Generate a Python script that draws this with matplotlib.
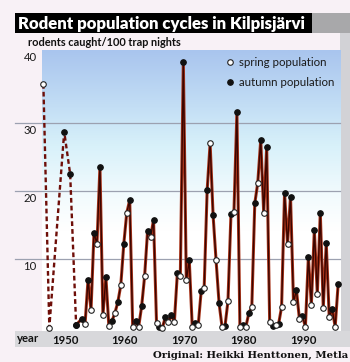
import numpy as np
import matplotlib
matplotlib.use("Agg")
import matplotlib.pyplot as plt
from matplotlib.patches import Rectangle
from matplotlib.lines import Line2D
from matplotlib.colors import LinearSegmentedColormap
import matplotlib.transforms as mtransforms

# ---------------- data ----------------
title = "Rodent population cycles in Kilpisjärvi"
subtitle = "rodents caught/100 trap nights"
credit = "Original: Heikki Henttonen, Metla"
legend_labels = ["spring population", "autumn population"]
xtick_years = [1950, 1960, 1970, 1980, 1990]
ytick_values = [10, 20, 30, 40]

# early, irregular observations (dashed)
early_years = [1946, 1947, 1949, 1950, 1951]
early_season = ["spring", "spring", "autumn", "autumn", "autumn"]
early_values = [35.7, 0.0, 28.7, 22.5, 0.4]

# regular trapping, spring and autumn
years = list(range(1951, 1996))
spring_values = [None, None, 0.5, 2.5, 12.2, 1.8, 0.15, 2.1, 6.2, 16.8,
                 0.1, 0.1, 7.5, 13.2, 0.7, 0.0, 0.85, 0.85, 7.6, 6.9,
                 0.1, 0.3, 5.8, 27.0, 9.85, 0.1, 3.9, 16.9, 0.1, 0.1,
                 3.0, 21.2, 16.8, 0.85, 0.4, 3.0, 12.2, 3.8, 1.2, 0.1,
                 3.35, 4.9, 2.9, 1.5, 0.1]
autumn_values = [0.4, 1.3, 7.0, 13.9, 23.6, 7.4, 0.9, 3.7, 12.2, 18.7,
                 1.0, 3.1, 14.2, 15.8, 0.1, 1.6, 1.8, 8.0, 39.0, 9.85,
                 0.7, 5.35, 20.1, 16.45, 3.6, 0.2, 16.6, 31.55, 0.3, 2.1,
                 18.2, 27.5, 26.4, 0.2, 0.5, 19.7, 19.2, 5.45, 1.7, 10.35,
                 14.3, 16.85, 12.4, 2.7, 6.4]

season_offset = {"spring": 0.35, "autumn": 0.85}

# ---------------- build series ----------------
early_t = [y + season_offset[s] for y, s in zip(early_years, early_season)]
t_all, v_all, kind = [], [], []
for y, sv, av in zip(years, spring_values, autumn_values):
    if sv is not None:
        t_all.append(y + season_offset["spring"]); v_all.append(sv); kind.append("s")
    if av is not None:
        t_all.append(y + season_offset["autumn"]); v_all.append(av); kind.append("a")
t_all = np.array(t_all); v_all = np.array(v_all); kind = np.array(kind)

# ---------------- figure ----------------
W, H = 350, 362
fig = plt.figure(figsize=(W / 100, H / 100), dpi=100)
fig.patch.set_facecolor("#f8f1f6")

def fx(px): return px / W
def fy(py): return 1 - py / H

def rect(x0, y0, x1, y1, color, z=-5):
    fig.patches.append(Rectangle((fx(x0), fy(y1)), (x1 - x0) / W, (y1 - y0) / H,
                                 transform=fig.transFigure, facecolor=color,
                                 edgecolor="none", zorder=z))

rect(15, 13, 312, 33, "#000000")
rect(312, 13, 350, 33, "#a8a8aa")
rect(340, 33, 350, 347, "#d2d2d6")
rect(15, 331, 350, 347, "#d8d8db")

sans = ["Lato", "DejaVu Sans"]

ax_l, ax_r, ax_t, ax_b = 41.7, 340, 50, 331
ax = fig.add_axes([fx(ax_l), fy(ax_b), (ax_r - ax_l) / W, (ax_b - ax_t) / H])
ax.set_zorder(1)
ax.patch.set_alpha(0)
ax.set_xlim(1946.07, 1996.16)
ax.set_ylim(-0.51, 40.69)
for s in ax.spines.values():
    s.set_visible(False)

# background gradient
cmap = LinearSegmentedColormap.from_list(
    "bg", [(0.0, "#ffffff"), (0.36, "#ffffff"), (0.50, "#f0fafd"),
           (0.66, "#d8f1fa"), (0.80, "#c3def5"), (1.0, "#a9c5ee")])
grad = np.linspace(0, 1, 256).reshape(-1, 1)
ax.imshow(grad, extent=[*ax.get_xlim(), *ax.get_ylim()], origin="lower",
          aspect="auto", cmap=cmap, zorder=0)
ax.set_xlim(1946.07, 1996.16)
ax.set_ylim(-0.51, 40.69)

# grid lines extend into the label column
ax_w = ax_r - ax_l
for v in ytick_values[:-1]:
    ax.axhline(v, xmin=(15 - ax_l) / ax_w, xmax=1, color="#9ca1b0", lw=0.9,
               clip_on=False, zorder=1)

# y tick labels below gridlines
base = mtransforms.blended_transform_factory(ax.transAxes, ax.transData)
for v in ytick_values:
    dy = -7.5 if v < 40 else -3.0
    tr = mtransforms.offset_copy(base, fig=fig, x=0, y=dy, units="dots")
    ax.text((30 - ax_l) / ax_w, v, str(v), transform=tr, ha="center", va="center",
            fontsize=8.2, family=sans, color="#1a1a1a", clip_on=False)

# x ticks
ax.set_yticks([])
ax.set_xticks(xtick_years)
ax.set_xticklabels([str(y) for y in xtick_years], fontsize=8.2,
                   fontweight="bold", family=sans, color="#111111")
ax.tick_params(axis="x", length=0, pad=3.2)

# early dashed segment
ax.plot(early_t, early_values, color="#6e0e08", lw=1.7, ls=(0, (2.0, 1.3)),
        zorder=3, dash_capstyle="butt")

# solid series (two-tone line)
ax.plot(t_all, v_all, color="#a8341a", lw=2.2, zorder=3, solid_joinstyle="round")
ax.plot(t_all, v_all, color="#3a0500", lw=1.0, zorder=3, solid_joinstyle="round")

# markers
e_t = np.array(early_t); e_v = np.array(early_values)
e_k = np.array(early_season)
ms = 4.0
ax.plot(e_t[e_k == "spring"], e_v[e_k == "spring"], ls="", marker="o", ms=ms,
        mfc="white", mec="#222222", mew=0.8, zorder=5, clip_on=False)
ax.plot(e_t[e_k == "autumn"], e_v[e_k == "autumn"], ls="", marker="o", ms=ms,
        mfc="#111111", mec="#111111", mew=0.8, zorder=5, clip_on=False)
ax.plot(t_all[kind == "a"], v_all[kind == "a"], ls="", marker="o", ms=ms,
        mfc="#111111", mec="#111111", mew=0.8, zorder=5, clip_on=False)
ax.plot(t_all[kind == "s"], v_all[kind == "s"], ls="", marker="o", ms=ms,
        mfc="white", mec="#222222", mew=0.8, zorder=6, clip_on=False)

# legend
handles = [Line2D([], [], ls="", marker="o", ms=ms, mfc="white", mec="#222222", mew=0.8),
           Line2D([], [], ls="", marker="o", ms=ms, mfc="#111111", mec="#111111", mew=0.8)]
leg = ax.legend(handles, legend_labels, loc="upper left",
                bbox_to_anchor=(fx(226), fy(57.5)), bbox_transform=fig.transFigure,
                frameon=False, borderpad=0, borderaxespad=0, handlelength=0.7,
                handletextpad=0.45, labelspacing=0.72,
                prop={"family": sans, "size": 8.3})
for t in leg.get_texts():
    t.set_color("#1a1a1a")

# texts
t_title = fig.text(fx(18), fy(23.5), title, color="white", fontsize=11.5,
                   fontweight="heavy", family=sans, ha="left", va="center")
t_sub = fig.text(fx(28), fy(42.5), subtitle, color="#111111", fontsize=8.2,
                 fontweight="bold", family=sans, ha="left", va="center")
fig.text(fx(17), fy(339), "year", color="#111111", fontsize=8.2,
         fontweight="bold", family=sans, ha="left", va="center")
t_cred = fig.text(fx(348), fy(355), credit, color="#111111", fontsize=8.5,
                  fontweight="bold", family=["DejaVu Serif"], ha="right", va="center")

# fit widths to the reference
fig.canvas.draw()
r = fig.canvas.get_renderer()
for txt, target in [(t_title, 290), (t_sub, 154), (t_cred, 196)]:
    w = txt.get_window_extent(r).width
    txt.set_fontsize(txt.get_fontsize() * target / w)

fig.savefig("out.png", dpi=100, facecolor=fig.get_facecolor())
